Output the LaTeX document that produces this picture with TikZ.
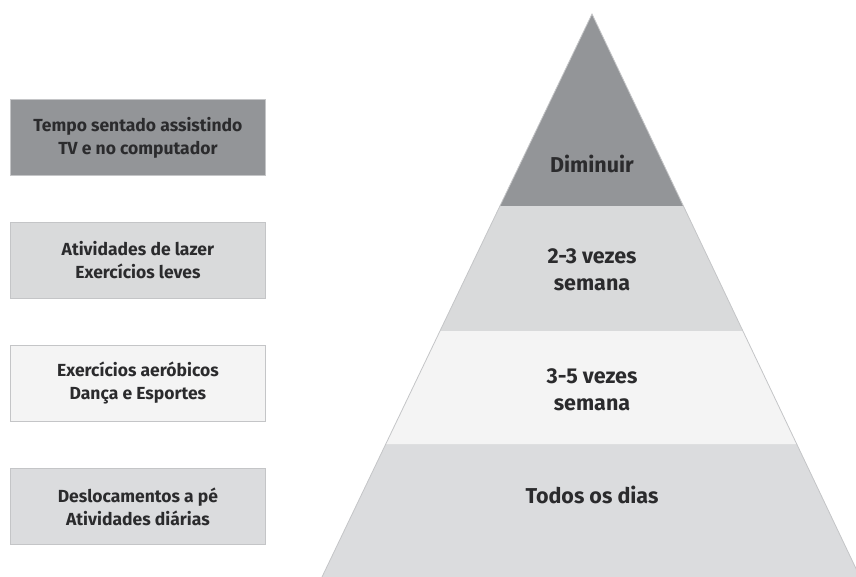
\documentclass[tikz,border=0pt]{standalone}
\usepackage{fontspec}
\setmainfont{Fira Sans}
\usetikzlibrary{calc}
\definecolor{gdark}{HTML}{939598}
\definecolor{gmid}{HTML}{D9DADB}
\definecolor{glight}{HTML}{F4F4F4}
\definecolor{gbase}{HTML}{DBDCDE}
\definecolor{txt}{HTML}{2B2B2D}
\definecolor{edge}{HTML}{C4C5C7}
\begin{document}
\begin{tikzpicture}[x=1pt,y=-1pt,
  lbox/.style={draw=edge,line width=0.8pt,minimum width=255pt,minimum height=76pt,
    anchor=north west,align=center,text=txt,font=\fontsize{17.5}{23}\selectfont\bfseries,inner sep=0pt},
  plabel/.style={align=center,text=txt,font=\fontsize{21.5}{27}\selectfont\bfseries}]
\useasboundingbox (0,0) rectangle (856,577);
\begin{scope}
\clip (0,0) rectangle (856,577);
% pyramid bands: apex (592,14), base (322,577)-(860,577)
\coordinate (apex) at (592,14);
\coordinate (bl) at (322,577);
\coordinate (br) at (860,577);
\fill[gbase] (bl) -- (br) -- ($(apex)!{(444-14)/(577-14)}!(br)$) -- ($(apex)!{(444-14)/(577-14)}!(bl)$) -- cycle;
\fill[glight] ($(apex)!{(444-14)/(577-14)}!(bl)$) -- ($(apex)!{(444-14)/(577-14)}!(br)$) -- ($(apex)!{(331-14)/(577-14)}!(br)$) -- ($(apex)!{(331-14)/(577-14)}!(bl)$) -- cycle;
\fill[gmid] ($(apex)!{(331-14)/(577-14)}!(bl)$) -- ($(apex)!{(331-14)/(577-14)}!(br)$) -- ($(apex)!{(206-14)/(577-14)}!(br)$) -- ($(apex)!{(206-14)/(577-14)}!(bl)$) -- cycle;
\fill[gdark] ($(apex)!{(206-14)/(577-14)}!(bl)$) -- ($(apex)!{(206-14)/(577-14)}!(br)$) -- (apex) -- cycle;
\draw[edge,line width=0.8pt] (bl) -- (apex) -- (br);
\end{scope}
\node[plabel] (p1) at (592,164) {Diminuir};
\node[plabel] (p2) at (592,270) {2-3 vezes\\semana};
\node[plabel] (p3) at (592,390) {3-5 vezes\\semana};
\node[plabel] (p4) at (592,495) {Todos os dias};
\node[lbox,fill=gdark] (b1) at (10,99) {Tempo sentado assistindo\\TV e no computador};
\node[lbox,fill=gmid] (b2) at (10,222) {Atividades de lazer\\Exercícios leves};
\node[lbox,fill=glight] (b3) at (10,345) {Exercícios aeróbicos\\Dança e Esportes};
\node[lbox,fill=gbase] (b4) at (10,468) {Deslocamentos a pé\\Atividades diárias};
\end{tikzpicture}
\end{document}
